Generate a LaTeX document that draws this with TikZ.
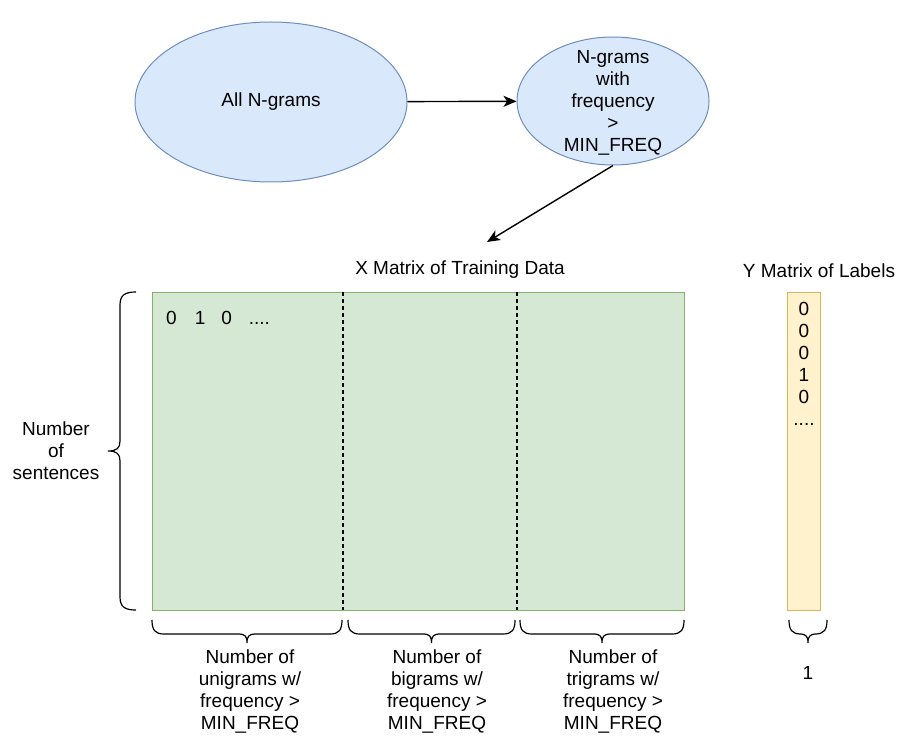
\documentclass[tikz,border=0pt]{standalone}
\usepackage{fontspec}
\setmainfont{Liberation Sans}
\usetikzlibrary{shapes.geometric,arrows.meta}

\definecolor{blueFill}{HTML}{DAE8FC}
\definecolor{blueLine}{HTML}{6C8EBF}
\definecolor{greenFill}{HTML}{D5E8D4}
\definecolor{greenLine}{HTML}{82B366}
\definecolor{yellowFill}{HTML}{FFF2CC}
\definecolor{yellowLine}{HTML}{D6B656}

\tikzset{
  txt/.style={font=\fontsize{19}{22}\selectfont, align=center, inner sep=0pt},
  setnode/.style={ellipse, draw=blueLine, fill=blueFill, line width=1pt, inner sep=0pt},
  flow/.style={line width=1.4pt, -{Stealth[length=13pt,width=11pt,inset=3.5pt]}},
  bracestyle/.style={line width=1.2pt, black},
  divider/.style={line width=1.2pt, dash pattern=on 4pt off 3pt},
}

% downward-pointing curly brace: left x, right x, top y
\newcommand\downbrace[3]{%
  \draw[bracestyle] (#1,#3) .. controls (#1,#3+10) and (#1+3,#3+14) .. (#1+12,#3+14)
    -- ({(#1+#2)/2-9},#3+14)
    .. controls ({(#1+#2)/2-2},#3+14) and ({(#1+#2)/2},#3+16) .. ({(#1+#2)/2},#3+23)
    .. controls ({(#1+#2)/2},#3+16) and ({(#1+#2)/2+2},#3+14) .. ({(#1+#2)/2+9},#3+14)
    -- (#2-12,#3+14) .. controls (#2-3,#3+14) and (#2,#3+10) .. (#2,#3);}

\begin{document}
\begin{tikzpicture}[x=1pt,y=-1pt]
\useasboundingbox (0,0) rectangle (899,738);

% the two sets of n-grams
\node[setnode, minimum width=272pt, minimum height=160pt] (all) at (271,102) {};
\node[txt] (allt) at (all.center) {All N-grams};
\node[setnode, minimum width=192pt, minimum height=128pt] (freq) at (613,101) {};
\node[txt] (freqt) at (613,103) {N-grams\\with\\frequency\\>\\MIN\_FREQ};

\coordinate (xin) at (487,242);
\draw[flow] (all) -- (freq);
\draw[flow] (freq.south) -- (xin);

% titles
\node[txt] (xtitle) at (460,270) {X Matrix of Training Data};
\node[txt] (ytitle) at (819,271) {Y Matrix of Labels};

% X matrix
\draw[draw=greenLine, fill=greenFill, line width=1pt] (152,292) rectangle (684,610);
\draw[divider] (343,292) -- (343,610);
\draw[divider] (517,292) -- (517,610);
\node[txt, anchor=west] (row) at (166,318) {0\hspace{18pt}1\hspace{16pt}0\hspace{17pt}....};

% Y matrix
\draw[draw=yellowLine, fill=yellowFill, line width=1pt] (787,292) rectangle (820,610);
\node[txt, anchor=north] (ycol) at (804,302) {0\\0\\0\\1\\0\\....};

% brace on the left for the rows
\draw[bracestyle] (136,292) .. controls (125,292) and (120,295) .. (120,305)
  -- (120,441) .. controls (120,448) and (117,451) .. (108,451)
  .. controls (117,451) and (120,454) .. (120,461)
  -- (120,597) .. controls (120,607) and (125,610) .. (136,610);
\node[txt] (rows) at (56,451) {Number\\of\\sentences};

% braces below for the columns
\downbrace{152}{342}{620}
\downbrace{348}{515}{620}
\downbrace{520}{684}{620}
\downbrace{789}{827}{620}

\node[txt] (uni) at (250,691) {Number of\\unigrams w/\\frequency >\\MIN\_FREQ};
\node[txt] (bi) at (437,691) {Number of\\bigrams w/\\frequency >\\MIN\_FREQ};
\node[txt] (tri) at (613,691) {Number of\\trigrams w/\\frequency >\\MIN\_FREQ};
\node[txt] (one) at (808,673) {1};
\end{tikzpicture}
\end{document}
